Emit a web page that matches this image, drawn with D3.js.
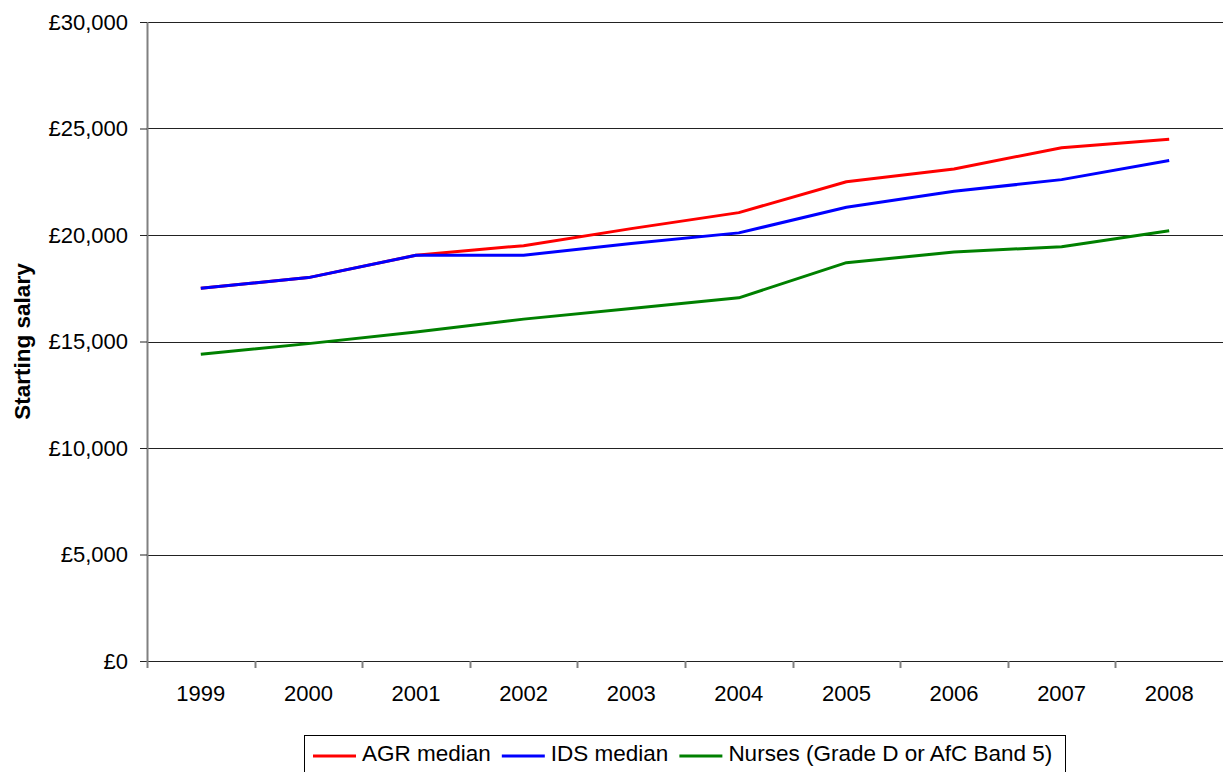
<!DOCTYPE html>
<html>
<head>
<meta charset="utf-8">
<script src="https://cdn.jsdelivr.net/npm/d3@7"></script>
<style>
  html, body { margin: 0; padding: 0; background: #fff; }
  svg { display: block; font-family: "Liberation Sans", Arial, sans-serif; }
</style>
</head>
<body>
<svg id="chart" width="1223" height="772"></svg>
<script>
// Graduate starting salaries, 1999-2008
const years = ["1999", "2000", "2001", "2002", "2003", "2004", "2005", "2006", "2007", "2008"];
const agrMedian = [17500, 18000, 19050, 19500, 20300, 21050, 22500, 23100, 24100, 24500];
const idsMedian = [17500, 18000, 19050, 19050, 19600, 20100, 21300, 22050, 22600, 23500];
const nurses = [14400, 14900, 15450, 16050, 16550, 17050, 18700, 19200, 19450, 20200];
const seriesNames = ["AGR median", "IDS median", "Nurses (Grade D or AfC Band 5)"];
const seriesColors = ["#ff0000", "#0000ff", "#008000"];
const yTicks = [0, 5000, 10000, 15000, 20000, 25000, 30000];

const svg = d3.select("#chart");
const plot = { left: 147, right: 1223, top: 22, bottom: 661 };

const x = d3.scaleBand().domain(years).range([plot.left, plot.right]).paddingInner(0).paddingOuter(0);
const y = d3.scaleLinear().domain([0, 30000]).range([plot.bottom, plot.top]);
const fmt = v => "£" + d3.format(",")(v);

// horizontal gridlines
svg.append("g")
  .selectAll("line")
  .data(yTicks.filter(v => v > 0))
  .join("line")
  .attr("x1", plot.left).attr("x2", plot.right)
  .attr("y1", d => Math.round(y(d)) + 0.5).attr("y2", d => Math.round(y(d)) + 0.5)
  .attr("stroke", "#222").attr("stroke-width", 1);

// y axis
const yAxis = svg.append("g")
  .attr("transform", `translate(${plot.left},0)`)
  .call(d3.axisLeft(y).tickValues(yTicks).tickFormat(fmt).tickSize(7).tickPadding(12));
yAxis.select(".domain").attr("stroke", "#808080").attr("stroke-width", 2)
  .attr("d", `M0.5,${plot.top}V${plot.bottom}`);
yAxis.selectAll(".tick line").attr("stroke", "#222");
yAxis.selectAll(".tick text")
  .attr("font-size", 22).attr("fill", "#000")
  .attr("font-family", "Liberation Sans, Arial, sans-serif");

// x axis
const xAxis = svg.append("g")
  .attr("transform", `translate(0,${plot.bottom})`)
  .call(d3.axisBottom(x).tickSize(0).tickPadding(24));
xAxis.select(".domain").remove();
xAxis.selectAll(".tick text")
  .attr("font-size", 22).attr("fill", "#000")
  .attr("font-family", "Liberation Sans, Arial, sans-serif");
svg.append("line")
  .attr("x1", plot.left - 7).attr("x2", plot.right)
  .attr("y1", plot.bottom + 0.5).attr("y2", plot.bottom + 0.5)
  .attr("stroke", "#222");
svg.append("g")
  .selectAll("line")
  .data(years)
  .join("line")
  .attr("x1", d => Math.round(x(d)) + 0.5).attr("x2", d => Math.round(x(d)) + 0.5)
  .attr("y1", plot.bottom).attr("y2", plot.bottom + 7)
  .attr("stroke", "#808080").attr("stroke-width", 2);

// axis title
svg.append("text")
  .attr("transform", "translate(29.5,341.5) rotate(-90)")
  .attr("text-anchor", "middle")
  .attr("font-size", 22.5).attr("font-weight", "bold")
  .text("Starting salary");

// series lines
const line = d3.line()
  .x((d, i) => x(years[i]) + x.bandwidth() / 2)
  .y(d => y(d));
[agrMedian, idsMedian, nurses].forEach((vals, k) => {
  svg.append("path")
    .datum(vals)
    .attr("d", line)
    .attr("fill", "none")
    .attr("stroke", seriesColors[k])
    .attr("stroke-width", 3)
    .attr("stroke-linejoin", "round");
});

// legend
const legend = svg.append("g");
legend.append("rect")
  .attr("x", 304.5).attr("y", 735.5)
  .attr("width", 761).attr("height", 50)
  .attr("fill", "#fff").attr("stroke", "#000").attr("stroke-width", 1);
let lx = 313;
seriesNames.forEach((name, k) => {
  legend.append("line")
    .attr("x1", lx).attr("x2", lx + 43)
    .attr("y1", 756).attr("y2", 756)
    .attr("stroke", seriesColors[k]).attr("stroke-width", 3);
  const t = legend.append("text")
    .attr("x", lx + 49).attr("y", 761)
    .attr("font-size", 22.5)
    .text(name);
  lx += 49 + t.node().getComputedTextLength() + 11;
});
</script>
</body>
</html>
